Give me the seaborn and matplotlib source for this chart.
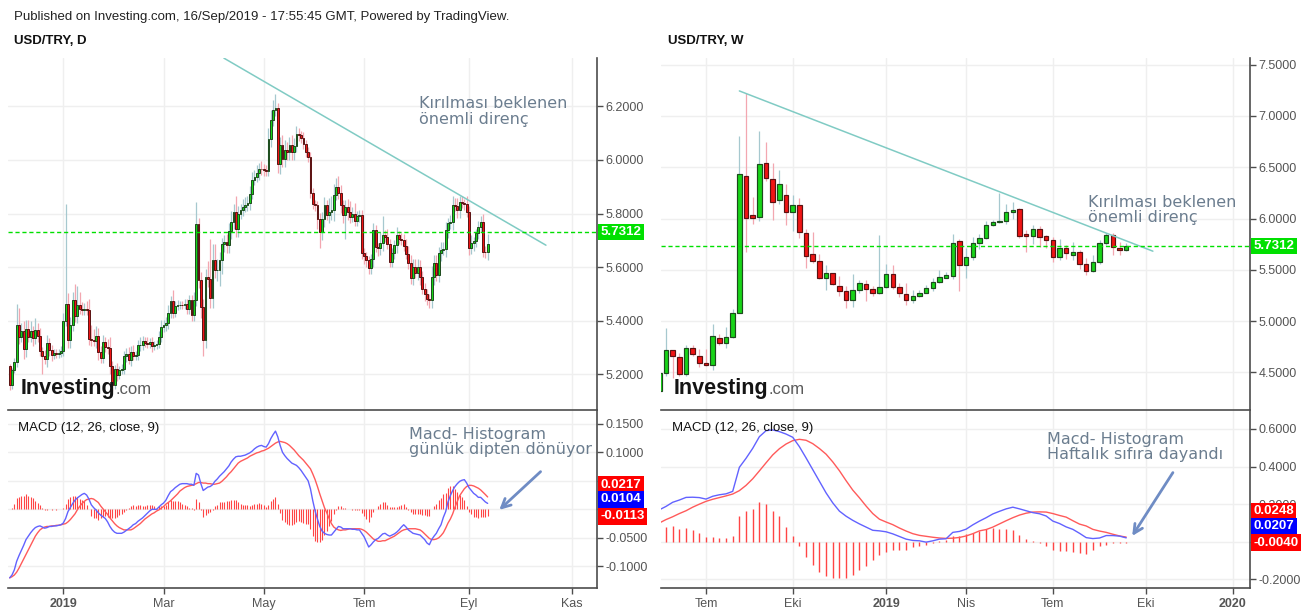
import numpy as np
import pandas as pd
import matplotlib
matplotlib.use("Agg")
import matplotlib.pyplot as plt
from matplotlib.ticker import FuncFormatter, FixedLocator
import seaborn as sns

# ---------------------------------------------------------------- DATA
# Daily USD/TRY (business days starting 2018-11-29)
d_start = "2018-11-29"
d_first_open = 5.23
d_close = [
    5.160, 5.215, 5.246, 5.383, 5.340, 5.360, 5.296, 5.371, 5.340, 5.360,
    5.335, 5.367, 5.342, 5.287, 5.270, 5.258, 5.317, 5.290, 5.271, 5.280,
    5.275, 5.280, 5.287, 5.400, 5.464, 5.330, 5.383, 5.479, 5.417, 5.458,
    5.445, 5.440, 5.445, 5.440, 5.333, 5.330, 5.325, 5.342, 5.284, 5.261,
    5.321, 5.302, 5.300, 5.230, 5.159, 5.221, 5.197, 5.215, 5.220, 5.267,
    5.277, 5.252, 5.284, 5.269, 5.272, 5.308, 5.310, 5.325, 5.318, 5.315,
    5.320, 5.305, 5.310, 5.312, 5.340, 5.377, 5.383, 5.390, 5.429, 5.474,
    5.429, 5.454, 5.458, 5.460, 5.458, 5.462, 5.445, 5.476, 5.420, 5.476,
    5.762, 5.551, 5.450, 5.327, 5.563, 5.557, 5.486, 5.626, 5.588, 5.590,
    5.626, 5.688, 5.694, 5.682, 5.735, 5.769, 5.806, 5.744, 5.800, 5.812,
    5.825, 5.831, 5.840, 5.874, 5.927, 5.937, 5.951, 5.968, 5.965, 5.962,
    5.960, 6.080, 6.148, 6.185, 6.195, 5.986, 6.055, 6.005, 6.036, 6.030,
    6.055, 6.030, 6.051, 6.096, 6.092, 6.083, 6.061, 6.030, 6.011, 5.877,
    5.837, 5.831, 5.781, 5.732, 5.780, 5.832, 5.795, 5.807, 5.814, 5.870,
    5.901, 5.876, 5.832, 5.795, 5.826, 5.807, 5.789, 5.800, 5.774, 5.790,
    5.795, 5.652, 5.640, 5.627, 5.596, 5.630, 5.739, 5.675, 5.670, 5.690,
    5.720, 5.714, 5.687, 5.620, 5.652, 5.683, 5.720, 5.706, 5.702, 5.680,
    5.650, 5.615, 5.559, 5.600, 5.578, 5.600, 5.565, 5.520, 5.500, 5.480,
    5.477, 5.565, 5.615, 5.570, 5.652, 5.665, 5.668, 5.740, 5.764, 5.770,
    5.832, 5.830, 5.814, 5.845, 5.840, 5.835, 5.807, 5.671, 5.689, 5.696,
    5.727, 5.751, 5.770, 5.658, 5.655, 5.687,
]
d_wick_up = [
    0.010, 0.008, 0.015, 0.080, 0.065, 0.030, 0.040, 0.030, 0.030, 0.040,
    0.020, 0.045, 0.025, 0.030, 0.015, 0.020, 0.030, 0.020, 0.020, 0.015,
    0.015, 0.015, 0.020, 0.030, 0.370, 0.040, 0.030, 0.030, 0.060, 0.070,
    0.050, 0.025, 0.020, 0.030, 0.040, 0.050, 0.040, 0.040, 0.030, 0.020,
    0.025, 0.020, 0.030, 0.040, 0.020, 0.015, 0.020, 0.015, 0.020, 0.020,
    0.020, 0.025, 0.020, 0.025, 0.015, 0.020, 0.030, 0.020, 0.015, 0.020,
    0.015, 0.020, 0.015, 0.015, 0.020, 0.025, 0.020, 0.025, 0.030, 0.020,
    0.040, 0.020, 0.020, 0.015, 0.015, 0.020, 0.020, 0.020, 0.020, 0.030,
    0.080, 0.020, 0.030, 0.030, 0.030, 0.060, 0.150, 0.060, 0.060, 0.040,
    0.030, 0.020, 0.025, 0.030, 0.030, 0.040, 0.030, 0.060, 0.030, 0.025,
    0.030, 0.030, 0.025, 0.030, 0.030, 0.025, 0.030, 0.020, 0.030, 0.020,
    0.020, 0.040, 0.040, 0.040, 0.053, 0.018, 0.030, 0.040, 0.040, 0.030,
    0.030, 0.040, 0.030, 0.030, 0.025, 0.015, 0.020, 0.015, 0.020, 0.020,
    0.020, 0.015, 0.015, 0.020, 0.025, 0.030, 0.020, 0.050, 0.050, 0.040,
    0.030, 0.040, 0.030, 0.020, 0.025, 0.030, 0.040, 0.025, 0.040, 0.020,
    0.020, 0.020, 0.020, 0.015, 0.015, 0.020, 0.025, 0.020, 0.015, 0.040,
    0.070, 0.020, 0.030, 0.020, 0.020, 0.020, 0.030, 0.015, 0.020, 0.020,
    0.025, 0.030, 0.030, 0.030, 0.030, 0.030, 0.025, 0.020, 0.020, 0.020,
    0.020, 0.040, 0.030, 0.030, 0.025, 0.030, 0.025, 0.030, 0.020, 0.025,
    0.035, 0.025, 0.030, 0.020, 0.020, 0.015, 0.030, 0.020, 0.030, 0.015,
    0.015, 0.020, 0.020, 0.030, 0.020, 0.035,
]
d_wick_dn = [
    0.020, 0.015, 0.010, 0.020, 0.025, 0.020, 0.040, 0.030, 0.020, 0.020,
    0.030, 0.020, 0.020, 0.020, 0.070, 0.020, 0.030, 0.020, 0.020, 0.015,
    0.015, 0.015, 0.015, 0.020, 0.020, 0.030, 0.030, 0.020, 0.020, 0.025,
    0.020, 0.020, 0.020, 0.020, 0.025, 0.025, 0.020, 0.025, 0.030, 0.020,
    0.020, 0.020, 0.025, 0.030, 0.020, 0.015, 0.020, 0.015, 0.015, 0.020,
    0.020, 0.015, 0.020, 0.015, 0.015, 0.020, 0.020, 0.020, 0.015, 0.015,
    0.015, 0.020, 0.015, 0.015, 0.015, 0.020, 0.020, 0.020, 0.020, 0.020,
    0.020, 0.015, 0.015, 0.015, 0.015, 0.015, 0.020, 0.020, 0.020, 0.020,
    0.020, 0.030, 0.040, 0.057, 0.030, 0.030, 0.040, 0.040, 0.030, 0.040,
    0.060, 0.050, 0.030, 0.030, 0.030, 0.030, 0.025, 0.030, 0.030, 0.020,
    0.020, 0.020, 0.020, 0.025, 0.020, 0.020, 0.020, 0.025, 0.020, 0.020,
    0.020, 0.020, 0.030, 0.020, 0.020, 0.036, 0.040, 0.030, 0.030, 0.030,
    0.030, 0.030, 0.030, 0.020, 0.020, 0.020, 0.020, 0.020, 0.020, 0.020,
    0.020, 0.020, 0.040, 0.060, 0.030, 0.030, 0.020, 0.030, 0.030, 0.040,
    0.020, 0.020, 0.030, 0.030, 0.090, 0.030, 0.025, 0.020, 0.020, 0.020,
    0.020, 0.020, 0.030, 0.025, 0.020, 0.020, 0.030, 0.020, 0.030, 0.025,
    0.030, 0.020, 0.020, 0.020, 0.020, 0.020, 0.030, 0.020, 0.020, 0.020,
    0.020, 0.020, 0.020, 0.025, 0.020, 0.025, 0.030, 0.020, 0.025, 0.020,
    0.030, 0.030, 0.030, 0.020, 0.025, 0.030, 0.020, 0.030, 0.030, 0.020,
    0.030, 0.020, 0.030, 0.030, 0.020, 0.020, 0.020, 0.025, 0.020, 0.030,
    0.020, 0.020, 0.020, 0.020, 0.020, 0.030,
]
d_macd = [
    -0.120, -0.115, -0.106, -0.091, -0.081, -0.072, -0.063, -0.053, -0.047, -0.041,
    -0.036, -0.032, -0.030, -0.029, -0.031, -0.033, -0.032, -0.030, -0.030, -0.029,
    -0.029, -0.028, -0.027, -0.024, -0.016, -0.004, 0.003, 0.010, 0.016, 0.020,
    0.023, 0.026, 0.028, 0.025, 0.018, 0.008, 0.003, -0.001, -0.006, -0.010,
    -0.013, -0.016, -0.022, -0.030, -0.036, -0.040, -0.042, -0.042, -0.042, -0.040,
    -0.037, -0.034, -0.031, -0.027, -0.025, -0.021, -0.018, -0.015, -0.011, -0.007,
    -0.003, 0.000, 0.000, 0.000, 0.004, 0.008, 0.011, 0.016, 0.024, 0.031,
    0.034, 0.038, 0.041, 0.044, 0.045, 0.045, 0.045, 0.044, 0.044, 0.042,
    0.063, 0.060, 0.045, 0.033, 0.036, 0.039, 0.040, 0.043, 0.049, 0.053,
    0.058, 0.062, 0.066, 0.071, 0.076, 0.083, 0.088, 0.092, 0.093, 0.093,
    0.094, 0.095, 0.097, 0.099, 0.102, 0.106, 0.109, 0.111, 0.112, 0.110,
    0.109, 0.115, 0.124, 0.131, 0.137, 0.127, 0.112, 0.100, 0.094, 0.089,
    0.085, 0.081, 0.079, 0.077, 0.073, 0.068, 0.062, 0.056, 0.050, 0.036,
    0.015, -0.003, -0.017, -0.030, -0.038, -0.042, -0.044, -0.045, -0.045, -0.040,
    -0.035, -0.030, -0.031, -0.034, -0.034, -0.034, -0.034, -0.035, -0.035, -0.036,
    -0.036, -0.042, -0.048, -0.057, -0.066, -0.062, -0.057, -0.053, -0.051, -0.047,
    -0.043, -0.042, -0.045, -0.047, -0.045, -0.043, -0.040, -0.036, -0.031, -0.027,
    -0.031, -0.036, -0.039, -0.042, -0.043, -0.044, -0.045, -0.049, -0.053, -0.059,
    -0.062, -0.053, -0.047, -0.042, -0.034, -0.027, -0.014, -0.004, 0.013, 0.024,
    0.033, 0.040, 0.045, 0.049, 0.051, 0.052, 0.046, 0.038, 0.033, 0.028,
    0.025, 0.021, 0.021, 0.017, 0.013, 0.0104,
]
d_signal = [
    -0.120, -0.118, -0.115, -0.110, -0.103, -0.095, -0.087, -0.079, -0.071, -0.063,
    -0.055, -0.047, -0.041, -0.036, -0.033, -0.031, -0.030, -0.030, -0.029, -0.029,
    -0.028, -0.028, -0.027, -0.026, -0.025, -0.022, -0.018, -0.013, -0.008, -0.001,
    0.005, 0.010, 0.014, 0.017, 0.018, 0.019, 0.018, 0.015, 0.012, 0.006,
    0.001, -0.004, -0.009, -0.015, -0.020, -0.025, -0.029, -0.032, -0.034, -0.036,
    -0.036, -0.036, -0.036, -0.034, -0.031, -0.028, -0.025, -0.021, -0.017, -0.014,
    -0.011, -0.008, -0.006, -0.003, -0.001, 0.002, 0.005, 0.009, 0.012, 0.015,
    0.019, 0.023, 0.027, 0.032, 0.035, 0.038, 0.040, 0.041, 0.042, 0.043,
    0.045, 0.047, 0.047, 0.046, 0.046, 0.045, 0.045, 0.044, 0.044, 0.045,
    0.046, 0.049, 0.053, 0.057, 0.062, 0.066, 0.071, 0.076, 0.081, 0.084,
    0.086, 0.088, 0.090, 0.093, 0.095, 0.097, 0.099, 0.100, 0.102, 0.103,
    0.105, 0.107, 0.110, 0.113, 0.116, 0.118, 0.119, 0.118, 0.117, 0.115,
    0.112, 0.108, 0.104, 0.099, 0.094, 0.090, 0.086, 0.081, 0.076, 0.071,
    0.062, 0.052, 0.040, 0.027, 0.015, 0.003, -0.006, -0.016, -0.025, -0.031,
    -0.034, -0.036, -0.037, -0.036, -0.036, -0.035, -0.034, -0.034, -0.034, -0.034,
    -0.034, -0.035, -0.037, -0.040, -0.044, -0.048, -0.052, -0.054, -0.056, -0.056,
    -0.055, -0.055, -0.053, -0.051, -0.049, -0.047, -0.044, -0.041, -0.038, -0.036,
    -0.035, -0.034, -0.034, -0.034, -0.034, -0.035, -0.036, -0.039, -0.043, -0.047,
    -0.051, -0.053, -0.053, -0.052, -0.050, -0.046, -0.041, -0.033, -0.024, -0.017,
    -0.008, 0.004, 0.014, 0.024, 0.030, 0.036, 0.040, 0.042, 0.042, 0.041,
    0.039, 0.037, 0.034, 0.030, 0.026, 0.0217,
]
d_trend_idx = [68.9, 207.0]        # bar offset from 2019-01-01
d_trend_price = [6.380, 5.682]

# Weekly USD/TRY (weeks starting 2018-05-14)
w_start = "2018-05-14"
w_open = [
    4.32, 4.49, 4.715, 4.646, 4.484, 4.734, 4.66, 4.59, 4.57, 4.84,
    4.79, 4.85, 5.084, 6.41, 6.03, 6.02, 6.545, 6.39, 6.18, 6.234,
    6.06, 6.136, 5.86, 5.65, 5.59, 5.425, 5.466, 5.34, 5.29, 5.21,
    5.30, 5.36, 5.318, 5.27, 5.33, 5.455, 5.33, 5.26, 5.21, 5.25,
    5.276, 5.32, 5.38, 5.425, 5.44, 5.78, 5.55, 5.625, 5.766, 5.81,
    5.94, 5.964, 5.98, 6.06, 6.09, 5.845, 5.83, 5.90, 5.83, 5.79,
    5.63, 5.716, 5.64, 5.67, 5.56, 5.49, 5.58, 5.757, 5.84, 5.71,
    5.69,
]
w_high = [
    4.55, 4.935, 4.72, 4.69, 4.77, 4.77, 4.73, 4.73, 4.977, 4.87,
    4.94, 5.12, 6.80, 7.22, 6.21, 6.85, 6.745, 6.545, 6.47, 6.335,
    6.23, 6.20, 5.90, 5.87, 5.65, 5.545, 5.47, 5.44, 5.34, 5.46,
    5.40, 5.40, 5.34, 5.84, 5.555, 5.545, 5.37, 5.37, 5.30, 5.30,
    5.35, 5.42, 5.50, 5.48, 5.85, 5.80, 5.71, 5.82, 5.85, 5.98,
    5.99, 6.253, 6.14, 6.16, 6.10, 5.89, 5.94, 5.93, 5.84, 5.82,
    5.80, 5.74, 5.77, 5.69, 5.62, 5.64, 5.79, 5.86, 5.86, 5.77,
    5.76,
]
w_low = [
    4.28, 4.47, 4.45, 4.47, 4.47, 4.66, 4.55, 4.56, 4.52, 4.77,
    4.74, 4.84, 5.08, 5.675, 5.95, 5.98, 6.37, 5.99, 6.146, 5.94,
    5.88, 5.81, 5.52, 5.57, 5.41, 5.30, 5.35, 5.25, 5.13, 5.14,
    5.27, 5.20, 5.25, 5.26, 5.32, 5.31, 5.24, 5.16, 5.18, 5.24,
    5.27, 5.29, 5.37, 5.42, 5.415, 5.29, 5.42, 5.60, 5.70, 5.80,
    5.93, 5.96, 5.95, 6.00, 5.81, 5.67, 5.75, 5.72, 5.71, 5.58,
    5.60, 5.61, 5.60, 5.505, 5.45, 5.48, 5.555, 5.74, 5.643, 5.64,
    5.68,
]
w_close = [
    4.49, 4.718, 4.659, 4.484, 4.734, 4.675, 4.588, 4.57, 4.86, 4.79,
    4.85, 5.084, 6.43, 6.01, 6.01, 6.536, 6.40, 6.166, 6.334, 6.06,
    6.136, 5.87, 5.636, 5.59, 5.425, 5.466, 5.367, 5.29, 5.211, 5.30,
    5.37, 5.31, 5.27, 5.33, 5.455, 5.33, 5.27, 5.21, 5.247, 5.27,
    5.32, 5.377, 5.43, 5.445, 5.766, 5.55, 5.627, 5.766, 5.81, 5.94,
    5.964, 5.98, 6.06, 6.08, 5.83, 5.83, 5.90, 5.82, 5.79, 5.627,
    5.716, 5.66, 5.67, 5.56, 5.49, 5.58, 5.757, 5.84, 5.718, 5.69,
    5.7312,
]
w_macd = [
    0.170, 0.188, 0.210, 0.222, 0.236, 0.237, 0.235, 0.227, 0.242, 0.250,
    0.255, 0.268, 0.396, 0.444, 0.497, 0.559, 0.591, 0.595, 0.586, 0.573,
    0.556, 0.506, 0.446, 0.384, 0.322, 0.260, 0.207, 0.163, 0.136, 0.114,
    0.095, 0.078, 0.061, 0.058, 0.053, 0.042, 0.028, 0.014, 0.007, 0.005,
    -0.002, 0.005, 0.014, 0.016, 0.050, 0.055, 0.067, 0.090, 0.110, 0.128,
    0.148, 0.162, 0.175, 0.184, 0.175, 0.165, 0.155, 0.149, 0.137, 0.110,
    0.097, 0.079, 0.066, 0.045, 0.022, 0.017, 0.020, 0.033, 0.033, 0.030,
    0.0207,
]
w_signal = [
    0.100, 0.118, 0.133, 0.150, 0.165, 0.184, 0.200, 0.215, 0.226, 0.235,
    0.244, 0.254, 0.272, 0.300, 0.335, 0.377, 0.420, 0.462, 0.495, 0.520,
    0.538, 0.545, 0.540, 0.522, 0.496, 0.466, 0.425, 0.378, 0.325, 0.275,
    0.234, 0.190, 0.150, 0.120, 0.105, 0.091, 0.073, 0.057, 0.043, 0.034,
    0.029, 0.024, 0.020, 0.018, 0.019, 0.023, 0.031, 0.043, 0.058, 0.065,
    0.078, 0.095, 0.112, 0.128, 0.142, 0.152, 0.158, 0.159, 0.158, 0.150,
    0.140, 0.131, 0.112, 0.094, 0.084, 0.066, 0.057, 0.050, 0.040, 0.031,
    0.0248,
]
w_hist = [
    0.065, 0.081, 0.085, 0.069, 0.074, 0.064, 0.046, 0.027, 0.027, 0.021,
    0.021, 0.032, 0.135, 0.166, 0.175, 0.209, 0.202, 0.166, 0.135, 0.078,
    0.028, -0.025, -0.083, -0.126, -0.163, -0.181, -0.193, -0.195, -0.193, -0.175,
    -0.152, -0.131, -0.096, -0.069, -0.053, -0.046, -0.046, -0.042, -0.028, -0.025,
    -0.016, -0.007, 0.002, 0.011, 0.032, 0.032, 0.042, 0.046, 0.055, 0.067,
    0.073, 0.069, 0.069, 0.064, 0.037, 0.014, 0.002, -0.007, -0.021, -0.042,
    -0.051, -0.051, -0.057, -0.060, -0.064, -0.042, -0.025, -0.016, -0.007, -0.005,
    -0.004,
]
w_trend_idx = [12.0, 74.0]
w_trend_price = [7.244, 5.682]

last_price = 5.7312
d_tick_months = [(2019, 1, "2019"), (2019, 3, "Mar"), (2019, 5, "May"),
                 (2019, 7, "Tem"), (2019, 9, "Eyl"), (2019, 11, "Kas")]
w_tick_months = [(2018, 7, "Tem"), (2018, 10, "Eki"), (2019, 1, "2019"),
                 (2019, 4, "Nis"), (2019, 7, "Tem"), (2019, 10, "Eki"), (2020, 1, "2020")]
d_price_ticks = [5.2, 5.4, 5.6, 5.8, 6.0, 6.2]
w_price_ticks = [4.5, 5.0, 5.5, 6.0, 6.5, 7.0, 7.5]
d_macd_ticks = [-0.10, -0.05, 0.0, 0.05, 0.10, 0.15]
d_macd_hidden = [0.0, 0.05]      # tick labels covered by the value boxes
w_macd_ticks = [-0.2, 0.0, 0.2, 0.4, 0.6]
w_macd_hidden = [0.0]

header = "Published on Investing.com, 16/Sep/2019 - 17:55:45 GMT, Powered by TradingView."
title_d = "USD/TRY, D"
title_w = "USD/TRY, W"
macd_title = "MACD (12, 26, close, 9)"
note_price = "Kırılması beklenen\nönemli direnç"
note_d_macd = "Macd- Histogram\ngünlük dipten dönüyor"
note_w_macd = "Macd- Histogram\nHaftalık sıfıra dayandı"

# ---------------------------------------------------------------- STYLE
sns.set_theme(style="white")
plt.rcParams["font.family"] = ["Liberation Sans", "DejaVu Sans"]

GREEN, GREEN_EDGE = "#18d418", "#1d4a1d"
RED, RED_EDGE = "#f01414", "#5a1212"
WICK_UP, WICK_DN = "#a6c8cf", "#f3a7b0"
GRID = "#efefef"
AXC = "#4d4d4d"
TXT = "#555555"
BLUE_L, RED_L, HIST_C = "#6262ff", "#ff5a5a", "#ff4545"
TREND = "#80cbc4"
NOTE = "#6b7d8f"
ARROW = "#6f8cc4"
LAST_G = "#00e000"

W, H = 1306, 612
fig = plt.figure(figsize=(W / 100, H / 100), dpi=100)
fig.patch.set_facecolor("white")


def rect(x0, x1, y0, y1):
    return [x0 / W, 1 - y1 / H, (x1 - x0) / W, (y1 - y0) / H]


axL = fig.add_axes(rect(8, 597, 58, 410))
axLm = fig.add_axes(rect(8, 597, 410, 588), sharex=axL)
axR = fig.add_axes(rect(661, 1250, 58, 410))
axRm = fig.add_axes(rect(661, 1250, 410, 588), sharex=axR)


def make_fmt(hidden):
    def f(v, p):
        if any(abs(v - h) < 1e-9 for h in hidden):
            return ""
        return f"{v:.4f}"
    return FuncFormatter(f)


def style_axes(ax, yticks, ylim, is_macd, hidden=()):
    ax.set_facecolor("white")
    ax.set_ylim(*ylim)
    ax.yaxis.set_major_locator(FixedLocator(yticks))
    ax.yaxis.set_major_formatter(make_fmt(hidden))
    ax.yaxis.tick_right()
    ax.tick_params(axis="y", right=True, left=False, labelright=True, labelleft=False,
                   length=4, width=1, color=AXC, labelcolor=TXT, labelsize=9, pad=2)
    for s in ax.spines.values():
        s.set_color(AXC)
        s.set_linewidth(1.2)
    ax.spines["left"].set_visible(False)
    if is_macd:
        ax.tick_params(axis="x", bottom=True, labelbottom=True, length=4, width=1,
                       color=AXC, labelcolor=TXT, labelsize=9, pad=3)
    else:
        ax.spines["top"].set_visible(False)
        ax.spines["bottom"].set_visible(False)
        ax.tick_params(axis="x", bottom=False, labelbottom=False, length=0)
    ax.grid(True, color=GRID, lw=1)
    ax.set_axisbelow(True)
    ax.set_xlabel("")
    ax.set_ylabel("")


def candles(ax, x, o, h, l, c, width, elw, wlw):
    o, h, l, c = map(np.asarray, (o, h, l, c))
    up = c >= o
    ax.vlines(x, l, h, colors=np.where(up, WICK_UP, WICK_DN), lw=wlw, zorder=2)
    bottom = np.minimum(o, c)
    height = np.maximum(np.abs(c - o), 0.002)
    ax.bar(x, height, bottom=bottom, width=width, color=np.where(up, GREEN, RED),
           edgecolor=np.where(up, GREEN_EDGE, RED_EDGE), linewidth=elw, zorder=3)


def value_label(ax, value, text, fc, dy_px=0.0):
    ax.annotate(text, xy=(1, value), xycoords=ax.get_yaxis_transform(),
                xytext=(2.6, dy_px * 0.72), textcoords="offset points",
                ha="left", va="center", fontsize=9.5, color="white", weight="bold",
                bbox=dict(boxstyle="square,pad=0.17", fc=fc, ec="none"),
                annotation_clip=False, zorder=10)


def month_ticks(dates, months):
    pos, lab = [], []
    for (y, m, name) in months:
        idx = np.where((dates.year == y) & (dates.month == m))[0]
        if len(idx):
            pos.append(idx[0])
            lab.append(name)
    return pos, lab


# ---------------------------------------------------------------- DAILY
n = min(len(d_close), len(d_wick_up), len(d_wick_dn), len(d_macd), len(d_signal))
d_dates = pd.bdate_range(d_start, periods=n)
n_pre = int((d_dates < pd.Timestamp("2019-01-01")).sum())
xd = np.arange(n) - n_pre
dc = np.array(d_close[:n])
do = np.concatenate([[d_first_open], dc[:-1]])
dh = np.maximum(do, dc) + np.array(d_wick_up[:n])
dl = np.minimum(do, dc) - np.array(d_wick_dn[:n])
candles(axL, xd, do, dh, dl, dc, 0.8, 0.7, 0.9)
axL.plot(d_trend_idx, d_trend_price, color=TREND, lw=1.1, zorder=4)
axL.axhline(last_price, color=LAST_G, lw=1, ls=(0, (3, 2)), zorder=5)

dm = np.array(d_macd[:n])
ds = np.array(d_signal[:n])
dhist = dm - ds
axLm.vlines(xd, 0, dhist, colors=HIST_C, lw=0.8, zorder=2)
sns.lineplot(x=xd, y=ds, ax=axLm, color=RED_L, linewidth=1.0, legend=False, sort=False, zorder=3)
sns.lineplot(x=xd, y=dm, ax=axLm, color=BLUE_L, linewidth=1.0, legend=False, sort=False, zorder=4)

style_axes(axL, d_price_ticks, (5.067, 6.3806), False)
style_axes(axLm, d_macd_ticks, (-0.1378, 0.174), True, d_macd_hidden)
d_ext = pd.bdate_range("2019-01-01", "2019-12-31")
tp, tl = month_ticks(d_ext, d_tick_months)
axLm.set_xticks(tp, tl)
axL.set_xlim(-23.72, 228.9)

# ---------------------------------------------------------------- WEEKLY
m = len(w_close)
xw = np.arange(m)
candles(axR, xw, w_open, w_high, w_low, w_close, 0.68, 0.85, 0.9)
axR.plot(w_trend_idx, w_trend_price, color=TREND, lw=1.1, zorder=4)
axR.axhline(last_price, color=LAST_G, lw=1, ls=(0, (3, 2)), zorder=5)

axRm.vlines(xw, 0, w_hist, colors=HIST_C, lw=1.0, zorder=2)
sns.lineplot(x=xw, y=w_signal, ax=axRm, color=RED_L, linewidth=1.0, legend=False, sort=False, zorder=3)
sns.lineplot(x=xw, y=w_macd, ax=axRm, color=BLUE_L, linewidth=1.0, legend=False, sort=False, zorder=4)

style_axes(axR, w_price_ticks, (4.134, 7.565), False)
style_axes(axRm, w_macd_ticks, (-0.246, 0.701), True, w_macd_hidden)
w_ext = pd.date_range(w_start, periods=110, freq="W-MON")
tp, tl = month_ticks(w_ext, w_tick_months)
axRm.set_xticks(tp, tl)
axR.set_xlim(0.25, 88.56)

for ax in (axLm, axRm):
    for t in ax.get_xticklabels():
        if t.get_text().isdigit():
            t.set_fontweight("bold")

# ---------------------------------------------------------------- LABELS
value_label(axL, last_price, f"{last_price:.4f}", LAST_G)
value_label(axR, last_price, f"{last_price:.4f}", LAST_G)
value_label(axLm, ds[-1], f"{ds[-1]:.4f}", "#ff0000", 12.4)
value_label(axLm, dm[-1], f"{dm[-1]:.4f}", "#0000ff", 3.9)
value_label(axLm, dhist[-1], f"{dhist[-1]:.4f}", "#ff0000", -0.5)
value_label(axRm, w_signal[-1], f"{w_signal[-1]:.4f}", "#ff0000", 26.0)
value_label(axRm, w_macd[-1], f"{w_macd[-1]:.4f}", "#0000ff", 11.5)
value_label(axRm, w_hist[-1], f"{w_hist[-1]:.4f}", "#ff0000", 0.0)

note_kw = dict(fontsize=11.5, color=NOTE, family=["DejaVu Sans"], va="top", ha="left",
               linespacing=1.02, zorder=6)
axL.text(152.6, 6.237, note_price, **note_kw)
axLm.text(148.4, 0.1440, note_d_macd, **note_kw)
axR.text(64.2, 6.228, note_price, **note_kw)
axRm.text(58.1, 0.586, note_w_macd, **note_kw)

arrow_kw = dict(arrowstyle="->", color=ARROW, lw=2, mutation_scale=16, shrinkA=0, shrinkB=0)
axLm.annotate("", xy=(187.0, -0.001), xytext=(204.7, 0.066), arrowprops=arrow_kw,
              annotation_clip=False)
axRm.annotate("", xy=(70.9, 0.031), xytext=(77.0, 0.368), arrowprops=arrow_kw,
              annotation_clip=False)

for ax, xf in ((axLm, 0.0175), (axRm, 0.018)):
    ax.text(xf, 0.90, macd_title, transform=ax.transAxes, fontsize=9.5, color="#111111",
            va="center", ha="left", zorder=6)

fig.text(14 / W, 1 - 17 / H, header, fontsize=9.5, color="#222222", va="center", ha="left")
fig.text(14 / W, 1 - 41 / H, title_d, fontsize=9.5, color="#111111", va="center", ha="left",
         weight="bold")
fig.text(668 / W, 1 - 41 / H, title_w, fontsize=9.5, color="#111111", va="center", ha="left",
         weight="bold")

# Investing.com watermark
fig.canvas.draw()
for ax in (axL, axR):
    t = ax.text(0.021, 0.045, "Investing", transform=ax.transAxes, fontsize=15.5,
                weight="bold", color="#141414", va="baseline", ha="left", zorder=6)
    fig.canvas.draw()
    bb = t.get_window_extent()
    x_end = ax.transAxes.inverted().transform((bb.x1, bb.y0))[0]
    ax.text(x_end + 0.001, 0.045, ".com", transform=ax.transAxes, fontsize=12,
            color="#5a5a5a", va="baseline", ha="left", zorder=6)

fig.savefig("out.png", dpi=100, facecolor="white")
